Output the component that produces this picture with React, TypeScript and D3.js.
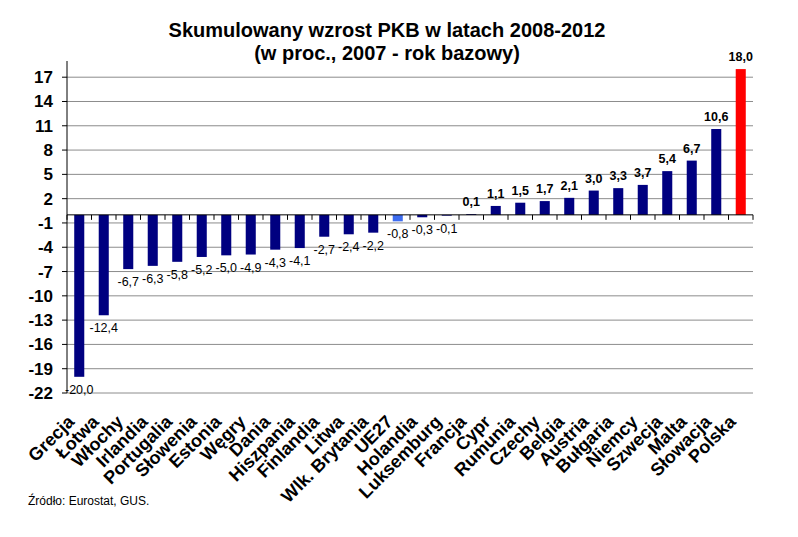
import { useEffect, useRef } from 'react'
import * as d3 from 'd3'

const countries = [
  'Grecja', 'Łotwa', 'Włochy', 'Irlandia', 'Portugalia', 'Słowenia', 'Estonia',
  'Węgry', 'Dania', 'Hiszpania', 'Finlandia', 'Litwa', 'Wlk. Brytania', 'UE27',
  'Holandia', 'Luksemburg', 'Francja', 'Cypr', 'Rumunia', 'Czechy', 'Belgia',
  'Austria', 'Bułgaria', 'Niemcy', 'Szwecja', 'Malta', 'Słowacja', 'Polska'
]
const growth = [
  -20.0, -12.4, -6.7, -6.3, -5.8, -5.2, -5.0, -4.9, -4.3, -4.1, -2.7, -2.4, -2.2, -0.8,
  -0.3, -0.1, 0.1, 1.1, 1.5, 1.7, 2.1, 3.0, 3.3, 3.7, 5.4, 6.7, 10.6, 18.0
]
const yTicks = [17, 14, 11, 8, 5, 2, -1, -4, -7, -10, -13, -16, -19, -22]
const highlight: Record<string, string> = { UE27: '#3d6cf0', Polska: '#ff0000' }

const W = 798
const H = 537
const FONT = 'Arial, "Liberation Sans", sans-serif'

export default function App() {
  const svgRef = useRef<SVGSVGElement>(null)

  useEffect(() => {
    if (!svgRef.current) return
    const svg = d3.select(svgRef.current)
    svg.selectAll('*').remove()

    const left = 67
    const right = 753
    const top = 61
    const bottom = 393

    const x = d3.scaleBand<string>().domain(countries).range([left, right]).paddingInner(0.59).paddingOuter(0.295)
    const y = d3.scaleLinear().domain([-22, 19]).range([bottom, top])
    const step = x.step()

    // gridlines
    svg.append('g')
      .selectAll('line')
      .data(yTicks)
      .enter()
      .append('line')
      .attr('x1', left)
      .attr('x2', right)
      .attr('y1', d => y(d))
      .attr('y2', d => y(d))
      .attr('stroke', '#8c8c8c')
      .attr('stroke-width', 1)

    // bars
    svg.append('g')
      .selectAll('rect')
      .data(countries)
      .enter()
      .append('rect')
      .attr('x', d => x(d)!)
      .attr('width', x.bandwidth())
      .attr('y', (_, i) => Math.min(y(0), y(growth[i])))
      .attr('height', (_, i) => Math.abs(y(growth[i]) - y(0)))
      .attr('fill', d => highlight[d] || '#000080')

    // y axis
    const yAxis = svg.append('g')
    yAxis.append('line')
      .attr('x1', left).attr('x2', left)
      .attr('y1', top).attr('y2', bottom)
      .attr('stroke', '#000')
    yAxis.selectAll('line.tick')
      .data(yTicks)
      .enter()
      .append('line')
      .attr('class', 'tick')
      .attr('x1', left - 5).attr('x2', left)
      .attr('y1', d => y(d)).attr('y2', d => y(d))
      .attr('stroke', '#000')
    yAxis.selectAll('text')
      .data(yTicks)
      .enter()
      .append('text')
      .attr('x', 53)
      .attr('y', d => y(d) + 6)
      .attr('text-anchor', 'end')
      .style('font-family', FONT)
      .style('font-size', '17px')
      .style('font-weight', 'bold')
      .text(d => String(d))

    // zero axis with ticks between categories
    svg.append('line')
      .attr('x1', left).attr('x2', right)
      .attr('y1', y(0)).attr('y2', y(0))
      .attr('stroke', '#000')
    svg.append('g')
      .selectAll('line')
      .data(d3.range(countries.length + 1))
      .enter()
      .append('line')
      .attr('x1', i => left + i * step)
      .attr('x2', i => left + i * step)
      .attr('y1', y(0))
      .attr('y2', y(0) + 5)
      .attr('stroke', '#000')

    // value labels
    svg.append('g')
      .selectAll('text')
      .data(countries)
      .enter()
      .append('text')
      .attr('x', d => x(d)! + x.bandwidth() / 2)
      .attr('y', (_, i) => growth[i] < 0 ? y(growth[i]) + 17 : y(growth[i]) - 8)
      .attr('text-anchor', 'middle')
      .style('font-family', FONT)
      .style('font-size', '12.5px')
      .style('font-weight', (_, i) => growth[i] > 0 ? 'bold' : 'normal')
      .text((_, i) => d3.format('.1f')(growth[i]).replace('.', ',').replace('−', '-'))

    // category labels
    svg.append('g')
      .selectAll('text')
      .data(countries)
      .enter()
      .append('text')
      .attr('transform', d => `translate(${x(d)! + x.bandwidth() / 2 - 4}, 423) rotate(-45)`)
      .attr('text-anchor', 'end')
      .style('font-family', FONT)
      .style('font-size', '18px')
      .style('font-weight', 'bold')
      .text(d => d)

    // title
    const title = svg.append('text')
      .attr('text-anchor', 'middle')
      .style('font-family', FONT)
      .style('font-size', '20px')
      .style('font-weight', 'bold')
    title.append('tspan').attr('x', 387).attr('y', 37).text('Skumulowany wzrost PKB w latach 2008-2012')
    title.append('tspan').attr('x', 387).attr('y', 60).text('(w proc., 2007 - rok bazowy)')

    svg.append('text')
      .attr('x', 28)
      .attr('y', 505)
      .style('font-family', FONT)
      .style('font-size', '12px')
      .text('Źródło: Eurostat, GUS.')
  }, [])

  return (
    <svg ref={svgRef} width={W} height={H}
      style={{ position: 'absolute', left: 0, top: 0, background: '#fff' }} />
  )
}
